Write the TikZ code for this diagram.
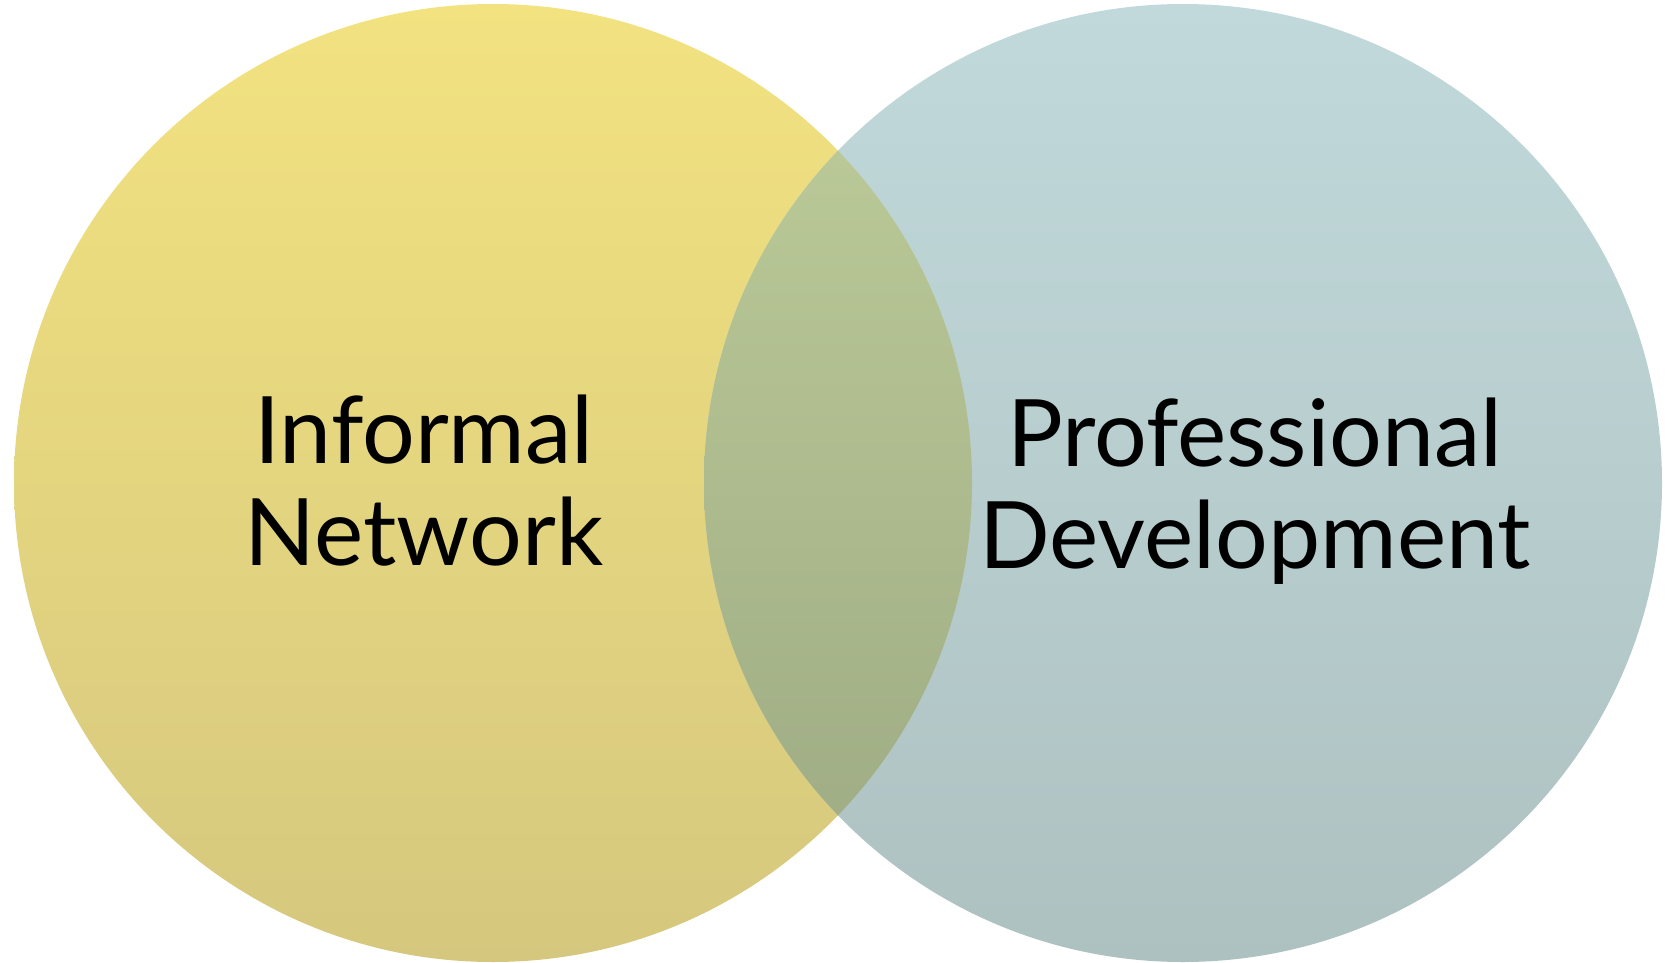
\documentclass[tikz,border=0pt]{standalone}
\usepackage{fontspec}
\setmainfont{Lato}
\definecolor{informaltop}{HTML}{F2E280}
\definecolor{informalbot}{HTML}{D5C87E}
\definecolor{profdevtop}{HTML}{C1D9DB}
\definecolor{profdevbot}{HTML}{AEC1C1}
\definecolor{overlaptop}{HTML}{BFCE9A}
\definecolor{overlapbot}{HTML}{9BA882}
\begin{document}
\begin{tikzpicture}[x=0.02cm,y=-0.02cm,
  vennlabel/.style={align=center,inner sep=0pt,font=\fontsize{53}{58}\selectfont}]
\useasboundingbox (0,0) rectangle (1671,963);
% The two circles
\shade[top color=informaltop,bottom color=informalbot] (493,483) circle[radius=479];
\shade[top color=profdevtop,bottom color=profdevbot] (1183,483) circle[radius=479];
% Where they overlap
\begin{scope}
\clip (493,483) circle[radius=479];
\shade[top color=overlaptop,bottom color=overlapbot] (1183,483) circle[radius=479];
\end{scope}
% Labels
\node[vennlabel] (informal) at (424,481) {Informal\\Network};
\node[vennlabel] (profdev) at (1255,491) {Professional\\Development};
\end{tikzpicture}
\end{document}
